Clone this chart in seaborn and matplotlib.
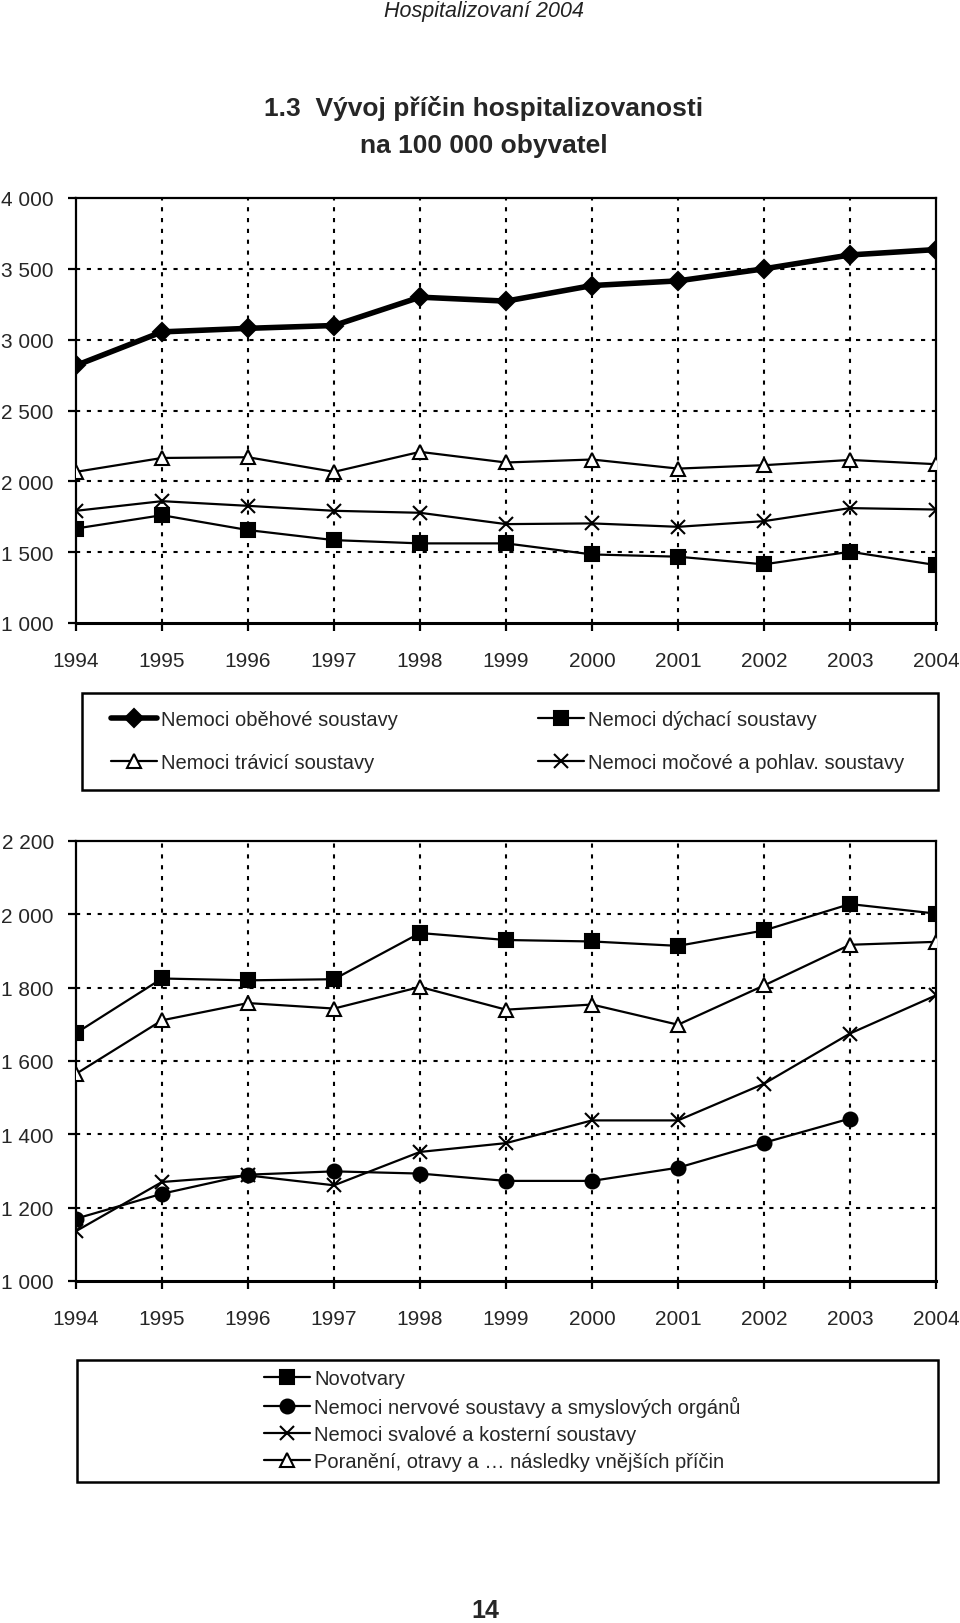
import numpy as np
import pandas as pd
import matplotlib
matplotlib.use("Agg")
import matplotlib.pyplot as plt
import matplotlib.ticker as mticker
from matplotlib import font_manager
from matplotlib.patches import Rectangle
import seaborn as sns

# ---------------- data ----------------
years = [1994, 1995, 1996, 1997, 1998, 1999, 2000, 2001, 2002, 2003, 2004]

# top chart
obehove = [2818, 3055, 3080, 3100, 3300, 3272, 3382, 3415, 3500, 3598, 3636]
travici = [2067, 2165, 2170, 2067, 2208, 2133, 2154, 2090, 2114, 2151, 2121]
mocove = [1792, 1860, 1827, 1792, 1778, 1698, 1703, 1679, 1719, 1811, 1801]
dychaci = [1667, 1761, 1656, 1585, 1562, 1562, 1484, 1468, 1414, 1503, 1409]

# bottom chart
novotvary = [1676, 1825, 1820, 1823, 1949, 1930, 1926, 1914, 1956, 2028, 2002]
nervove = [1170, 1238, 1290, 1299, 1293, 1273, 1273, 1309, 1377, 1443, np.nan]
svalove = [1136, 1270, 1288, 1261, 1352, 1376, 1438, 1438, 1538, 1675, 1779]
poraneni = [1565, 1711, 1758, 1743, 1802, 1740, 1754, 1699, 1806, 1917, 1925]

top_labels = ["Nemoci oběhové soustavy", "Nemoci dýchací soustavy",
              "Nemoci trávicí soustavy", "Nemoci močové a pohlav. soustavy"]
bottom_labels = ["Novotvary", "Nemoci nervové soustavy a smyslových orgánů",
                 "Nemoci svalové a kosterní soustavy",
                 "Poranění, otravy a … následky vnějších příčin"]

header_text = "Hospitalizovaní 2004"
title_text = "1.3  Vývoj příčin hospitalizovanosti\nna 100 000 obyvatel"
page_text = "14"

# ---------------- fonts ----------------
sns.set_theme(style="white")
names = {f.name for f in font_manager.fontManager.ttflist}
narrow = "Liberation Sans Narrow" if "Liberation Sans Narrow" in names else "Liberation Sans"
plt.rcParams['font.family'] = [narrow, 'DejaVu Sans']
plt.rcParams['axes.unicode_minus'] = False

W, H = 960, 1624
fig = plt.figure(figsize=(W / 100, H / 100), dpi=100)
fig.patch.set_facecolor("white")


def fx(px):
    return px / W


def fy(py):
    return 1 - py / H


def make_axes(top, bottom):
    left, right = 76, 936
    return fig.add_axes([fx(left), fy(bottom), fx(right - left), (bottom - top) / H])


FS = 15
LFS = 14.5


def style_axes(ax, ymin, ymax, step):
    ax.set_xlim(years[0], years[-1])
    ax.set_ylim(ymin, ymax)
    ax.set_xticks(years)
    ax.set_yticks(np.arange(ymin, ymax + 1, step))
    ax.yaxis.set_major_formatter(mticker.FuncFormatter(lambda v, p: f"{v:,.0f}".replace(",", " ")))
    ax.xaxis.set_major_formatter(mticker.FuncFormatter(lambda v, p: f"{int(v)}"))
    ax.set_xlabel("")
    ax.set_ylabel("")
    for s in ax.spines.values():
        s.set_visible(True)
        s.set_color("black")
        s.set_linewidth(1.6)
    ax.spines['bottom'].set_linewidth(2.2)
    ax.tick_params(axis='x', direction='out', length=6, width=1.6, color='black',
                   labelsize=FS, pad=14, bottom=True)
    ax.tick_params(axis='y', direction='out', length=6, width=1.6, color='black',
                   labelsize=FS, pad=10, left=True)
    ax.grid(False)
    for yv in np.arange(ymin + step, ymax, step):
        ax.axhline(yv, color='black', lw=1.5, ls=(0, (2, 3.2)), zorder=0.5)
    for xv in years[1:-1]:
        ax.axvline(xv, color='black', lw=1.5, ls=(0, (2, 3.2)), zorder=0.5)
    ax.set_facecolor("white")


def draw(ax, vals, marker, lw=1.6, ms=10, mfc='black', label=None):
    df = pd.DataFrame({"rok": years, "hodnota": vals})
    sns.lineplot(data=df, x="rok", y="hodnota", ax=ax, color='black', lw=lw,
                 marker=marker, markersize=ms, markerfacecolor=mfc,
                 markeredgecolor='black', markeredgewidth=1.5, label=label,
                 legend=False, zorder=3)
    ax.set_xlabel("")
    ax.set_ylabel("")
    return ax.lines[-1]


# ---------------- top chart ----------------
ax1 = make_axes(199, 624)
style_axes(ax1, 1000, 4000, 500)
h_ob = draw(ax1, obehove, 'D', lw=4.0, ms=9)
h_tr = draw(ax1, travici, '^', ms=10, mfc='white')
h_mo = draw(ax1, mocove, 'x', ms=10)
h_dy = draw(ax1, dychaci, 's', ms=10)

# ---------------- bottom chart ----------------
ax2 = make_axes(842, 1282)
style_axes(ax2, 1000, 2200, 200)
h_no = draw(ax2, novotvary, 's', ms=10)
h_ne = draw(ax2, nervove, 'o', ms=10)
h_sv = draw(ax2, svalove, 'x', ms=10)
h_po = draw(ax2, poraneni, '^', ms=10, mfc='white')

# ---------------- legends ----------------
fig.add_artist(Rectangle((fx(82), fy(791)), fx(938 - 82), (791 - 694) / H,
                         transform=fig.transFigure, fill=False, ec='black', lw=1.8))
leg_kw = dict(frameon=False, fontsize=LFS, handlelength=2.3, handletextpad=0.2,
              borderpad=0, borderaxespad=0, labelspacing=1.15)
legA = fig.legend([h_ob, h_tr], [top_labels[0], top_labels[2]], loc='center left',
                  bbox_to_anchor=(fx(111), fy(742)), **leg_kw)
legB = fig.legend([h_dy, h_mo], [top_labels[1], top_labels[3]], loc='center left',
                  bbox_to_anchor=(fx(538), fy(742)), **leg_kw)

fig.add_artist(Rectangle((fx(77), fy(1483)), fx(938 - 77), (1483 - 1361) / H,
                         transform=fig.transFigure, fill=False, ec='black', lw=1.8))
leg_kw2 = dict(leg_kw)
leg_kw2['labelspacing'] = 0.4
legC = fig.legend([h_no, h_ne, h_sv, h_po], bottom_labels, loc='center left',
                  bbox_to_anchor=(fx(264), fy(1421)), **leg_kw2)

# ---------------- texts ----------------
fig.text(fx(484), fy(12), header_text, ha='center', va='center', fontsize=15.5,
         style='italic', color='#222222', family=['Liberation Sans', 'DejaVu Sans'])
fig.text(fx(484), fy(127), title_text, ha='center', va='center', fontsize=19,
         fontweight='bold', linespacing=1.7)
fig.text(fx(485), fy(1611), page_text, ha='center', va='center', fontsize=18,
         fontweight='bold')

fig.savefig("out.png", dpi=100, facecolor='white')
